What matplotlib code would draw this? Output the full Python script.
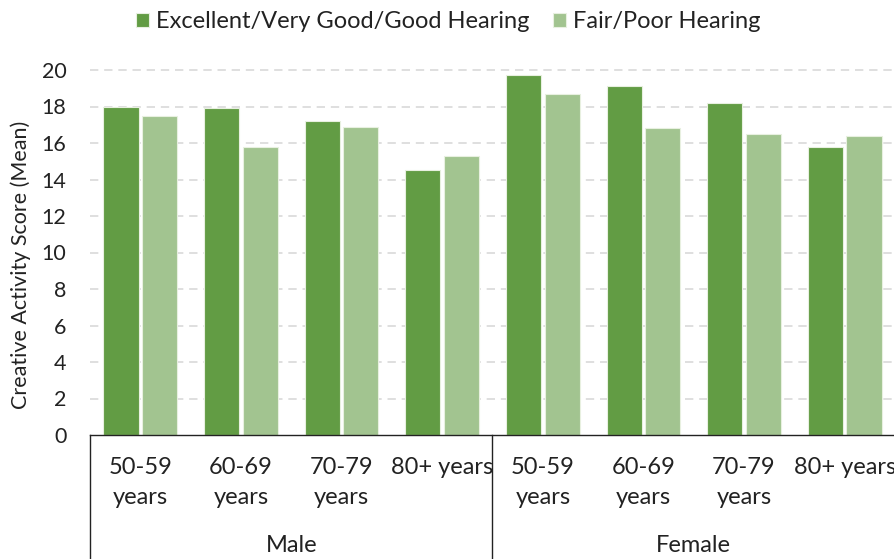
import matplotlib
matplotlib.use("Agg")
import matplotlib.pyplot as plt
import numpy as np

plt.rcParams['font.family'] = ['Lato', 'DejaVu Sans']

age_groups = ["50-59\nyears", "60-69\nyears", "70-79\nyears", "80+ years",
              "50-59\nyears", "60-69\nyears", "70-79\nyears", "80+ years"]
sexes = ["Male", "Female"]
series_names = ["Excellent/Very Good/Good Hearing", "Fair/Poor Hearing"]
good_hearing = [18.0, 17.9, 17.2, 14.5, 19.7, 19.1, 18.2, 15.8]
poor_hearing = [17.5, 15.8, 16.9, 15.3, 18.7, 16.8, 16.5, 16.4]
yticks = [0, 2, 4, 6, 8, 10, 12, 14, 16, 18, 20]

W, H = 895, 559
fig = plt.figure(figsize=(W / 100, H / 100), dpi=100)
left, right, bottom, top = 90, 895, 435, 70
ax = fig.add_axes([left / W, (H - bottom) / H, (right - left) / W, (bottom - top) / H])

dark = "#629C44"
light = "#A2C490"
txt = "#222222"
x = np.arange(len(age_groups))
bw = 0.348
off = 0.192
ax.bar(x - off, good_hearing, bw, color=dark, edgecolor="#E8F0E0", linewidth=0.8,
       label=series_names[0], zorder=3)
ax.bar(x + off, poor_hearing, bw, color=light, edgecolor="#E8F0E0", linewidth=0.8,
       label=series_names[1], zorder=3)

ax.set_xlim(-0.5, len(age_groups) - 0.5)
ax.set_ylim(0, 20)
ax.set_yticks(yticks)
ax.set_yticklabels([str(t) for t in yticks], fontsize=15.5, color=txt)
ax.tick_params(axis='y', length=0, pad=17)
ax.tick_params(axis='x', length=0, labelbottom=False)
for t in yticks[1:]:
    ax.axhline(t, color="#D9D9D9", linewidth=1.2, linestyle=(0, (5, 3.5)), zorder=1, clip_on=False)
for s in ["left", "right", "top"]:
    ax.spines[s].set_visible(False)
ax.spines["bottom"].set_color(txt)
ax.spines["bottom"].set_linewidth(1.0)
ax.spines["bottom"].set_zorder(4)

axh = bottom - top
axw = right - left
ax.set_ylabel("Creative Activity Score (Mean)", fontsize=15.5, color=txt)
ax.yaxis.set_label_coords(-(left - 31) / axw, (bottom - 265) / axh)

trans = ax.get_xaxis_transform()
for i, lab in enumerate(age_groups):
    lines = lab.split("\n")
    for j, ln in enumerate(lines):
        ypx = 467 + 30 * j
        ax.text(i, -(ypx - bottom) / axh, ln, transform=trans, ha="center", va="center",
                fontsize=17, color=txt, clip_on=False)
for k, s in enumerate(sexes):
    ax.text(4 * k + 1.5, -(545 - bottom) / axh, s, transform=trans, ha="center", va="center",
            fontsize=17, color=txt, clip_on=False)

ybot = -(H - bottom + 5) / axh
for xb in [-0.5, 3.5, 7.5]:
    ax.plot([xb, xb], [0, ybot], transform=trans, color=txt, linewidth=1.0, clip_on=False)

fig.legend(loc="center", bbox_to_anchor=(448 / W, 1 - 22 / H), ncol=2, frameon=False,
           fontsize=17, handlelength=0.55, handleheight=0.55, handletextpad=0.3,
           columnspacing=1.0, labelcolor=txt)

fig.savefig("out.png", dpi=100)
